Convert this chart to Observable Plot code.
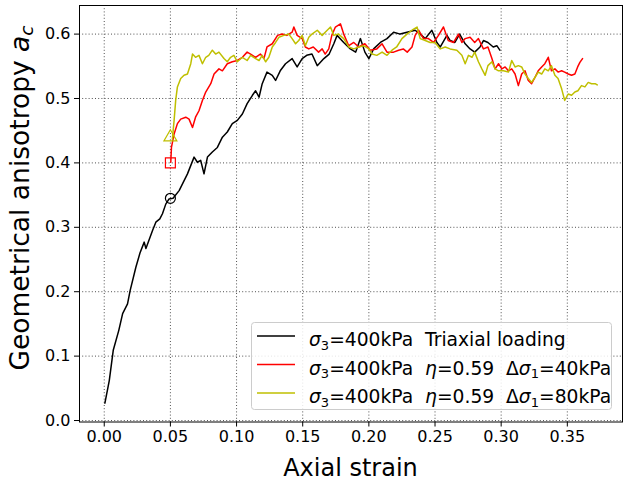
<!DOCTYPE html>
<html><head><meta charset="utf-8">
<script src="https://cdn.jsdelivr.net/npm/d3@7"></script>
<script src="https://cdn.jsdelivr.net/npm/@observablehq/plot@0.6"></script>
<style>
body{margin:0;background:#fff;}
#wrap{position:relative;width:637px;height:487px;font-family:"DejaVu Sans",sans-serif;}
</style>
</head><body>
<div id="wrap"></div>
<script>
const xTicks = [0, 0.05, 0.10, 0.15, 0.20, 0.25, 0.30, 0.35];
const yTicks = [0, 0.1, 0.2, 0.3, 0.4, 0.5, 0.6];

const blackX = [0.0005,0.0038,0.0068,0.011,0.0139,0.0176,0.0196,0.0239,0.027,0.0302,0.0315,0.0365,0.039,0.042,0.044,0.0465,0.049,0.052,0.0566,0.0629,0.0679,0.0704,0.0729,0.0754,0.078,0.0817,0.0855,0.0893,0.093,0.0968,0.1006,0.1044,0.108,0.112,0.1144,0.117,0.1194,0.123,0.127,0.1295,0.133,0.137,0.142,0.1458,0.1496,0.153,0.157,0.161,0.166,0.170,0.1735,0.176,0.181,0.186,0.190,0.1936,0.197,0.200,0.2036,0.2087,0.2137,0.2187,0.2237,0.2288,0.235,0.2388,0.2426,0.2476,0.2514,0.254,0.259,0.2615,0.265,0.2686,0.2728,0.2765,0.280,0.284,0.2866,0.290,0.294,0.2967,0.299];
const blackY = [0.027,0.062,0.109,0.140,0.166,0.181,0.202,0.238,0.260,0.277,0.267,0.295,0.308,0.313,0.321,0.336,0.344,0.345,0.357,0.383,0.409,0.401,0.404,0.383,0.409,0.417,0.424,0.440,0.448,0.461,0.466,0.476,0.492,0.505,0.512,0.502,0.523,0.541,0.536,0.528,0.543,0.554,0.562,0.549,0.562,0.567,0.569,0.551,0.562,0.569,0.585,0.598,0.587,0.577,0.572,0.593,0.572,0.562,0.577,0.587,0.593,0.603,0.600,0.603,0.606,0.600,0.593,0.606,0.587,0.580,0.598,0.590,0.587,0.600,0.585,0.577,0.572,0.580,0.590,0.587,0.580,0.582,0.575];

const redX = [0.0503,0.0508,0.0528,0.0553,0.0578,0.0616,0.0641,0.0667,0.069,0.0716,0.0742,0.0767,0.0805,0.083,0.0867,0.0893,0.093,0.0968,0.1006,0.1044,0.108,0.1106,0.1144,0.118,0.1207,0.123,0.127,0.131,0.1345,0.138,0.142,0.1433,0.1458,0.1496,0.152,0.1546,0.158,0.162,0.1647,0.167,0.1697,0.172,0.1747,0.1785,0.181,0.1848,0.1886,0.1923,0.197,0.201,0.206,0.210,0.2137,0.2187,0.2225,0.226,0.229,0.2326,0.235,0.2376,0.2413,0.245,0.2489,0.2526,0.2564,0.260,0.264,0.2677,0.2703,0.2728,0.2765,0.280,0.2828,0.2866,0.290,0.293,0.2954,0.298,0.3005,0.303,0.3055,0.308,0.3105,0.313,0.3155,0.318,0.3205,0.323,0.3256,0.328,0.3306,0.333,0.3356,0.338,0.3406,0.343,0.3457,0.348,0.3507,0.3532,0.3557,0.3578,0.3595,0.3615];
const redY = [0.401,0.424,0.445,0.461,0.468,0.471,0.468,0.455,0.471,0.481,0.497,0.510,0.523,0.538,0.546,0.543,0.554,0.557,0.559,0.564,0.572,0.569,0.564,0.569,0.562,0.580,0.585,0.598,0.600,0.598,0.603,0.611,0.598,0.593,0.580,0.577,0.580,0.572,0.577,0.569,0.577,0.598,0.611,0.616,0.600,0.582,0.587,0.580,0.585,0.575,0.577,0.585,0.572,0.572,0.575,0.577,0.572,0.580,0.598,0.606,0.593,0.593,0.587,0.598,0.611,0.590,0.587,0.600,0.587,0.593,0.595,0.587,0.593,0.577,0.580,0.562,0.546,0.554,0.546,0.549,0.543,0.546,0.538,0.520,0.538,0.543,0.528,0.523,0.533,0.543,0.549,0.554,0.564,0.543,0.546,0.541,0.543,0.541,0.538,0.536,0.538,0.549,0.556,0.562];

const yellowX = [0.0515,0.0528,0.054,0.0553,0.0578,0.0603,0.0629,0.0654,0.0667,0.069,0.0716,0.0742,0.0767,0.079,0.0817,0.0842,0.0867,0.0905,0.093,0.0955,0.098,0.1006,0.1044,0.108,0.1106,0.1144,0.117,0.1194,0.122,0.1244,0.127,0.1295,0.132,0.1357,0.1395,0.142,0.1446,0.147,0.1496,0.152,0.1546,0.157,0.161,0.1647,0.167,0.171,0.1735,0.177,0.181,0.1848,0.1886,0.1923,0.196,0.200,0.2024,0.206,0.210,0.2137,0.2175,0.221,0.225,0.2288,0.2326,0.2364,0.2388,0.2426,0.2463,0.25,0.254,0.2577,0.2614,0.2665,0.2703,0.2728,0.2753,0.278,0.280,0.2828,0.2854,0.2879,0.290,0.293,0.2954,0.298,0.3017,0.3055,0.308,0.3105,0.313,0.3155,0.318,0.3205,0.323,0.3256,0.328,0.3306,0.333,0.3356,0.338,0.3406,0.343,0.3457,0.348,0.3507,0.3532,0.3557,0.358,0.3607,0.3633,0.3658,0.3683,0.371,0.3726];
const yellowY = [0.437,0.466,0.497,0.518,0.531,0.536,0.538,0.554,0.569,0.564,0.567,0.554,0.564,0.567,0.575,0.569,0.572,0.562,0.557,0.564,0.567,0.557,0.564,0.559,0.567,0.562,0.559,0.567,0.557,0.564,0.580,0.587,0.595,0.598,0.600,0.593,0.585,0.590,0.598,0.582,0.595,0.600,0.606,0.598,0.603,0.611,0.598,0.600,0.593,0.580,0.577,0.580,0.582,0.577,0.569,0.567,0.572,0.567,0.575,0.580,0.593,0.600,0.606,0.611,0.593,0.590,0.587,0.587,0.577,0.580,0.577,0.575,0.567,0.554,0.567,0.564,0.572,0.557,0.546,0.536,0.551,0.557,0.546,0.543,0.543,0.541,0.559,0.549,0.551,0.549,0.538,0.531,0.525,0.533,0.541,0.538,0.546,0.543,0.551,0.536,0.531,0.515,0.497,0.507,0.505,0.510,0.512,0.520,0.518,0.525,0.523,0.523,0.521];

const startX = [0.05, 0.05, 0.05];
const startY = [0.345, 0.400, 0.440];

// legend label pieces: [text, style] where style: "" normal, "i" italic, "s" subscript
const seriesLabels = [
  [["σ","i"],["3","s"],["=400kPa  Triaxial loading",""]],
  [["σ","i"],["3","s"],["=400kPa  ",""],["η","i"],["=0.59  Δ",""],["σ","i"],["1","s"],["=40kPa",""]],
  [["σ","i"],["3","s"],["=400kPa  ",""],["η","i"],["=0.59  Δ",""],["σ","i"],["1","s"],["=80kPa",""]]
];
const colors = ["#000000", "#ff0000", "#bfbf00"];

const toRows = (xs, ys) => xs.map((x, i) => ({x, y: ys[i]}));
const black = toRows(blackX, blackY);
const red = toRows(redX, redY);
const yellow = toRows(yellowX, yellowY);
const starts = toRows(startX, startY);

const grid = {stroke: "#333", strokeOpacity: 0.85, strokeWidth: 1, strokeDasharray: "1,2.2"};

const chart = Plot.plot({
  width: 637, height: 487,
  marginLeft: 79, marginRight: 15, marginTop: 5, marginBottom: 65.5,
  x: {domain: [-0.0187, 0.3917]},
  y: {domain: [-0.0023, 0.6444]},
  style: {fontFamily: "DejaVu Sans", fontSize: "16px", color: "#000", background: "#fff"},
  marks: [
    Plot.gridX(xTicks, grid),
    Plot.gridY(yTicks, grid),
    Plot.line(black, {x: "x", y: "y", stroke: colors[0], strokeWidth: 1.5}),
    Plot.line(red, {x: "x", y: "y", stroke: colors[1], strokeWidth: 1.5}),
    Plot.line(yellow, {x: "x", y: "y", stroke: colors[2], strokeWidth: 1.5}),
    Plot.dot([starts[0]], {x: "x", y: "y", symbol: "circle", r: 5, stroke: colors[0], fill: "none", strokeWidth: 1.2}),
    Plot.dot([starts[1]], {x: "x", y: "y", symbol: "square", r: 5.6, stroke: colors[1], fill: "none", strokeWidth: 1.2}),
    Plot.dot([starts[2]], {x: "x", y: "y", symbol: "triangle", r: 4.8, stroke: colors[2], fill: "none", strokeWidth: 1.2}),
    Plot.frame({stroke: "#000", strokeWidth: 1}),
    Plot.axisX(xTicks, {tickFormat: d3.format(".2f"), tickSize: 5, tickPadding: 4, fontSize: 16, label: null}),
    Plot.axisY(yTicks, {tickFormat: d3.format(".1f"), tickSize: 5, tickPadding: 4, fontSize: 16, label: null})
  ]
});

document.getElementById("wrap").appendChild(chart);

const svg = d3.select(chart);
svg.append("text")
  .attr("x", 350.5).attr("y", 476)
  .attr("text-anchor", "middle")
  .attr("font-size", 24).attr("font-family", "DejaVu Sans")
  .text("Axial strain");

const yl = svg.append("text")
  .attr("transform", "translate(28.5,198) rotate(-90)")
  .attr("text-anchor", "middle")
  .attr("font-size", 26.5).attr("font-family", "DejaVu Sans");
yl.append("tspan").text("Geometrical anisotropy ");
yl.append("tspan").attr("font-style", "oblique").text("a");
yl.append("tspan").attr("font-style", "oblique").attr("font-size", 18.5).attr("dy", 4).text("c");

// legend
const lg = svg.append("g").attr("font-family", "DejaVu Sans").attr("font-size", 18.7).attr("text-anchor", "start");
lg.append("rect")
  .attr("x", 251.5).attr("y", 322.5).attr("width", 360).attr("height", 87).attr("rx", 3)
  .attr("fill", "#fff").attr("fill-opacity", 0.85).attr("stroke", "#cccccc").attr("stroke-width", 1);
seriesLabels.forEach((parts, i) => {
  const base = 346 + i * 28.5;
  lg.append("line")
    .attr("x1", 257).attr("x2", 295).attr("y1", base - 10).attr("y2", base - 10)
    .attr("stroke", colors[i]).attr("stroke-width", 1.5);
  const t = lg.append("text").attr("x", 309).attr("y", base).attr("text-anchor", "start").style("white-space", "pre");
  let low = false;
  parts.forEach(([txt, st]) => {
    const ts = t.append("tspan").text(txt);
    if (st === "i") ts.attr("font-style", "oblique");
    if (st === "s") { ts.attr("font-size", 13).attr("dy", 3.5); low = true; }
    else if (low) { ts.attr("dy", -3.5); low = false; }
  });
});
</script>
</body></html>
